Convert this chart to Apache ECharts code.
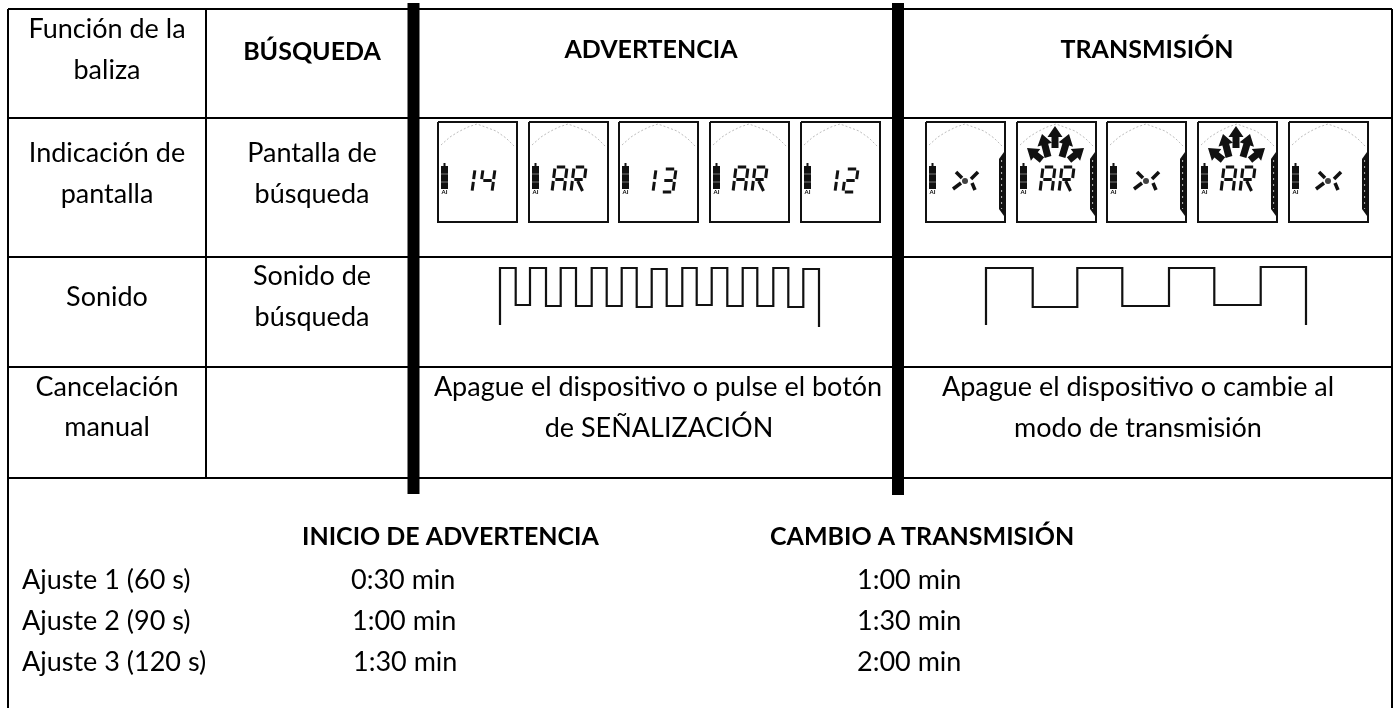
<!DOCTYPE html>
<html lang="es">
<head>
    <meta charset="UTF-8">
    <title>Función de la baliza</title>
    <style>
        body,html{
            margin: 0;
            background: #fff;
        }
        #chart{
            width: 1399px;
            height: 708px;
        }
    </style>
</head>
<body>
<div id="chart"></div>
<script src="https://cdn.jsdelivr.net/npm/echarts@6/dist/echarts.min.js"></script>
<script type="text/javascript">

    //texts of the table, one entry per printed line
    const cellTexts = ['Función de la','baliza','Indicación de','pantalla','Pantalla de','búsqueda','Sonido',
        'Sonido de','búsqueda','Cancelación','manual','Apague el dispositivo o pulse el botón','de SEÑALIZACIÓN',
        'Apague el dispositivo o cambie al','modo de transmisión'];
    const headerTexts = ['BÚSQUEDA','ADVERTENCIA','TRANSMISIÓN'];
    const settingHeaders = ['INICIO DE ADVERTENCIA','CAMBIO A TRANSMISIÓN'];
    const settingTexts = ['Ajuste 1 (60 s)','Ajuste 2 (90 s)','Ajuste 3 (120 s)',
        '0:30 min','1:00 min','1:30 min','1:00 min','1:30 min','2:00 min'];

    //what each little display shows
    const warningScreens = ['14','AR','13','AR','12'];
    const transmitScreens = ['X','AR','X','AR','X'];

    //sound patterns: x of each edge, and the high / low level
    const warningEdges = [500,515.7,530,546,560.7,576,591.7,606.7,621.7,636.7,651.7,666.7,682.3,696.7,711.7,727.3,742.7,757.3,773.3,788.3,803.3,819];
    const warningHigh = [268,268,268,268,268,269,268,268,268,268,269];
    const warningLow = [305,306,306,306,307,306,305,306,306,307];
    const transmitEdges = [986,1032.7,1077.3,1122.3,1169,1214.3,1260.7,1306];
    const transmitHigh = [268,268,268,267];
    const transmitLow = [307,306,305];

    //table rules [x1,y1,x2,y2] on the page scale of the axes
    const thinRules = [[8,9,1392,9],[8,118,1392,118],[8,257,1392,257],[8,367,1392,367],[8,478,1392,478],
        [8,9,8,708],[206,9,206,478],[1392,9,1392,708]];
    const thickRules = [[413.5,3,413.5,494],[898,3,898,495]];

    //anchor of each text
    const cellAnchors = [[107,29],[107,70],[107,153],[107,194],[312,153],[312,194],[107,297],[312,276],[312,317],
        [107,387],[107,427],[658,387],[659,428],[1138,387],[1138,428]];
    const headerAnchors = [[312,52],[651,50],[1147,50]];
    const settingHeaderAnchors = [[302,537],[770,537]];
    const settingAnchors = [[22,580],[22,621],[22,662],[351,580],[352,621],[353,662],[857,580],[857,621],[857,662]];

    //display frames: left edge of each one, top and size
    const warningLeft = [438,529,619,710,801];
    const transmitLeft = [926,1017,1107,1198,1289];
    const screenTop = 122, screenW = 79, screenH = 100;

    //seven segment shapes in a unit cell
    const segments = {
        a:[[0.15,0],[0.85,0]], b:[[1,0.06],[1,0.44]], c:[[1,0.56],[1,0.94]], d:[[0.15,1],[0.85,1]],
        e:[[0,0.56],[0,0.94]], f:[[0,0.06],[0,0.44]], g:[[0.15,0.5],[0.85,0.5]], k:[[0.45,0.56],[0.95,0.96]]
    };
    const glyphs = {'1':'bc','2':'abged','3':'abgcd','4':'fgbc','A':'abcefg','R':'abefgk'};

    //relative to a frame
    const arcPoints = [[3,23],[12,15],[20,10],[30,5],[39,2],[50,6],[58,9],[68,16],[77,25]];
    const batteryBody = [[3,44],[10,44],[10,67],[3,67]];
    const batteryCap = [[5.5,41],[7.5,41],[7.5,44],[5.5,44]];
    const batteryBars = [[3,52,10,52],[3,60,10,60]];
    const bracket = [[78,30],[73,37],[73,87],[78,94]];
    const blades = [[30,50,36,56],[52,50,45,57],[27,67,35,61],[49,68,46,61]];
    const arrows = [[38,4,38,26],[25,12,31,35],[10,26,25,38],[52,12,45,35],[67,26,52,38]];
    const batteryMark = 'AI';

    const ink = '#000';
    const textFont = 'Lato';
    const textSize = 27;
    const boldSize = 25;

    function place(left,top,pts){
        return pts.map(p => [left+p[0],top+p[1]]);
    }

    //split a display string into line pieces
    function digitPieces(left,text){
        let pieces = [];
        let cellX = text === 'AR' ? [left+23,left+42] : [left+22,left+42];
        let top = text === 'AR' ? screenTop+45 : screenTop+47;
        let h = text === 'AR' ? 25 : 23;
        text.split('').forEach(function(ch,i){
            glyphs[ch].split('').forEach(function(s){
                let seg = segments[s];
                let w = 12;
                pieces.push(seg.map(p => p[0]*w+(1-p[1])*3+cellX[i]).concat(seg.map(p => top+p[1]*h)));
            });
        });
        return pieces.map(p => [p[0],p[2],p[1],p[3]]);
    }

    function arrowShape(left,a){
        let dx = a[2]-a[0], dy = a[3]-a[1];
        let len = Math.sqrt(dx*dx+dy*dy);
        let ux = dx/len, uy = dy/len, nx = -uy, ny = ux;
        let hx = a[0]+ux*11, hy = a[1]+uy*11;
        let pts = [[a[0],a[1]],[hx+nx*7.5,hy+ny*7.5],[hx+nx*3.5,hy+ny*3.5],[a[2]+nx*3.5,a[3]+ny*3.5],
            [a[2]-nx*3.5,a[3]-ny*3.5],[hx-nx*3.5,hy-ny*3.5],[hx-nx*7.5,hy-ny*7.5]];
        return place(left,screenTop,pts);
    }

    //series builders
    function ruleSeries(data,width,color,dash){
        return {
            type:'custom', coordinateSystem:'cartesian2d', silent:true, data:data,
            renderItem:function(params,api){
                return {
                    type:'line',
                    shape:{
                        x1:api.coord([api.value(0),api.value(1)])[0], y1:api.coord([api.value(0),api.value(1)])[1],
                        x2:api.coord([api.value(2),api.value(3)])[0], y2:api.coord([api.value(2),api.value(3)])[1]
                    },
                    style:{stroke:color,lineWidth:width,lineDash:dash||null,fill:null}
                };
            }
        };
    }

    function polygonSeries(shapes,fill,stroke){
        return {
            type:'custom', coordinateSystem:'cartesian2d', silent:true, data:shapes.map((s,i) => [s[0][0],s[0][1],i]),
            renderItem:function(params,api){
                return {
                    type:'polygon',
                    shape:{points:shapes[params.dataIndex].map(p => api.coord(p))},
                    style:{fill:fill,stroke:stroke||null,lineWidth:stroke?2:0}
                };
            }
        };
    }

    function polylineSeries(lines,width,color,dash){
        return {
            type:'custom', coordinateSystem:'cartesian2d', silent:true, data:lines.map((s,i) => [s[0][0],s[0][1],i]),
            renderItem:function(params,api){
                return {
                    type:'polyline',
                    shape:{points:lines[params.dataIndex].map(p => api.coord(p))},
                    style:{fill:null,stroke:color,lineWidth:width,lineDash:dash||null}
                };
            }
        };
    }

    function textSeries(texts,anchors,align,weight,size){
        return {
            type:'custom', coordinateSystem:'cartesian2d', silent:true, data:anchors,
            renderItem:function(params,api){
                let c = api.coord([api.value(0),api.value(1)]);
                return {
                    type:'text',
                    style:{x:c[0],y:c[1],text:texts[params.dataIndex],fill:ink,align:align,verticalAlign:'middle',
                        fontFamily:textFont,fontSize:size,fontWeight:weight}
                };
            }
        };
    }

    //square wave as a line series
    function wavePoints(edges,high,low,startY,endY){
        let pts = [[edges[0],startY]];
        for(let i=0;i<edges.length-1;i++){
            let level = i%2 === 0 ? high[i/2] : low[(i-1)/2];
            pts.push([edges[i],level]);
            pts.push([edges[i+1],level]);
        }
        pts.push([edges[edges.length-1],endY]);
        return pts;
    }

    function waveSeries(pts){
        return {type:'line',data:pts,symbol:'none',silent:true,lineStyle:{color:'#111',width:2.2,join:'miter'}};
    }

    //collect the display parts
    let allLeft = warningLeft.concat(transmitLeft);
    let allScreens = warningScreens.concat(transmitScreens);
    let framePts = allLeft.map(x => [[x,screenTop],[x+screenW,screenTop],[x+screenW,screenTop+screenH],[x,screenTop+screenH],[x,screenTop]]);
    let arcLines = allLeft.map(x => place(x,screenTop,arcPoints));
    let bodies = allLeft.map(x => place(x,screenTop,batteryBody));
    let caps = allLeft.map(x => place(x,screenTop,batteryCap));
    let bars = [];
    allLeft.forEach(x => batteryBars.forEach(b => bars.push([x+b[0],screenTop+b[1],x+b[2],screenTop+b[3]])));
    let brackets = transmitLeft.map(x => place(x,screenTop,bracket));
    let bracketDots = transmitLeft.map(x => [x+75.6,screenTop+38,x+75.6,screenTop+87]);
    let markAnchors = allLeft.map(x => [x+6.5,screenTop+70.5]);
    let markTexts = allLeft.map(() => batteryMark);

    let digitSegs = [], bladeSegs = [], centreDots = [], arrowShapes = [];
    allScreens.forEach(function(text,i){
        let x = allLeft[i];
        if(text === 'X'){
            blades.forEach(b => bladeSegs.push([x+b[0],screenTop+b[1],x+b[2],screenTop+b[3]]));
            centreDots.push([x+39,screenTop+59]);
        }else{
            digitSegs = digitSegs.concat(digitPieces(x,text));
        }
        if(text === 'AR' && i >= warningLeft.length){
            arrows.forEach(a => arrowShapes.push(arrowShape(x,a)));
        }
    });

    let chart = echarts.init(document.getElementById('chart'));
    chart.setOption({
        animation:false,
        backgroundColor:'#fff',
        tooltip:{show:false},
        grid:{left:0,right:0,top:0,bottom:0},
        xAxis:{type:'value',min:0,max:1399,show:false},
        yAxis:{type:'value',min:0,max:708,inverse:true,show:false},
        series:[
            ruleSeries(thinRules,2,ink),
            ruleSeries(thickRules,12,ink),
            polylineSeries(arcLines,1,'#bdbdbd',[2,2]),
            polylineSeries(framePts,2,'#111'),
            polygonSeries(bodies,'#111'),
            polygonSeries(caps,'#111'),
            ruleSeries(bars,1,'#777'),
            polygonSeries(brackets,'#111'),
            ruleSeries(bracketDots,1,'#bbb',[2,4]),
            ruleSeries(digitSegs,3,'#111'),
            ruleSeries(bladeSegs,3.5,'#111'),
            {type:'scatter',data:centreDots,symbolSize:6,silent:true,itemStyle:{color:'#111'}},
            polygonSeries(arrowShapes,'#111'),
            waveSeries(wavePoints(warningEdges,warningHigh,warningLow,325,327)),
            waveSeries(wavePoints(transmitEdges,transmitHigh,transmitLow,325,325)),
            textSeries(markTexts,markAnchors,'center','bold',6),
            textSeries(cellTexts,cellAnchors,'center','normal',textSize),
            textSeries(headerTexts,headerAnchors,'center','bold',boldSize),
            textSeries(settingHeaders,settingHeaderAnchors,'left','bold',boldSize),
            textSeries(settingTexts,settingAnchors,'left','normal',textSize)
        ]
    });

</script>
</body>
</html>
